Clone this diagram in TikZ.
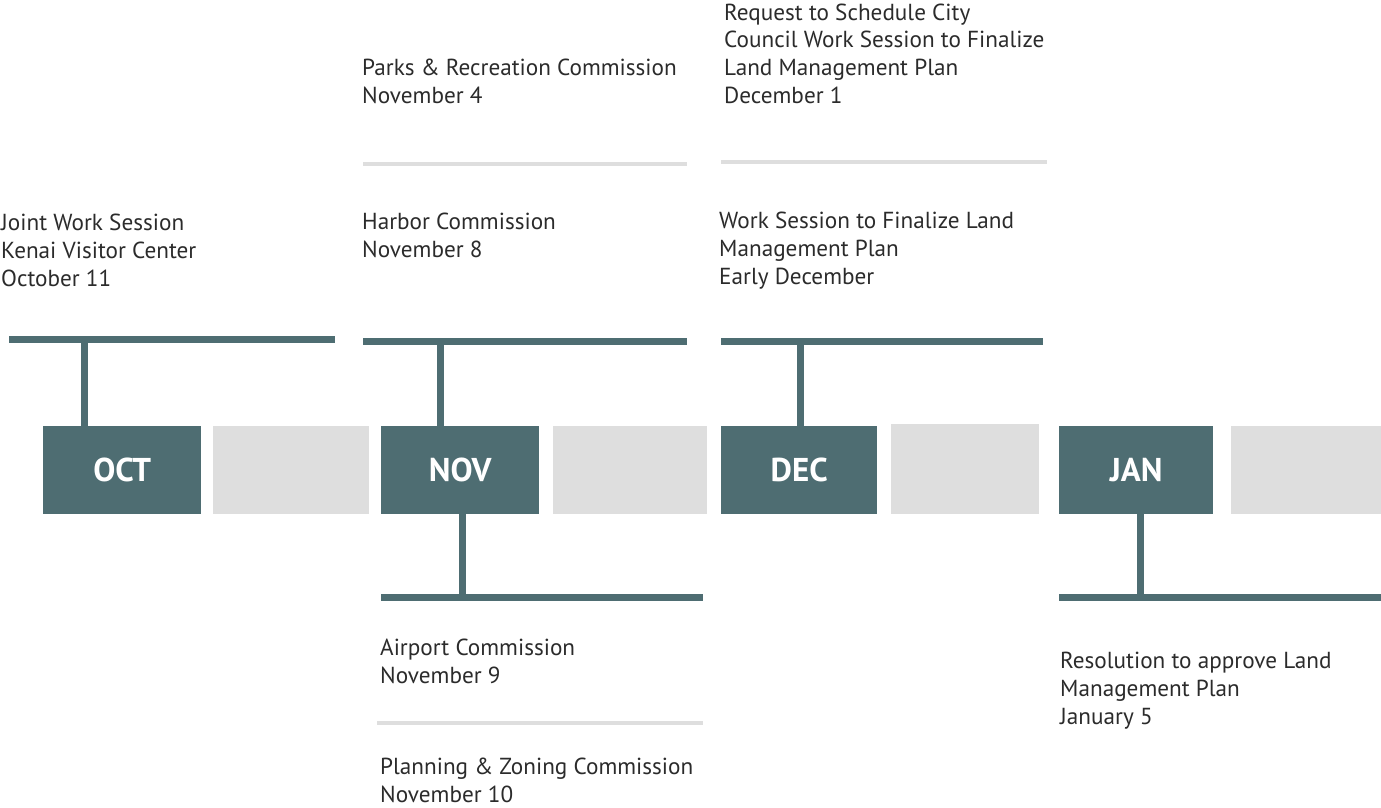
\documentclass[tikz,border=0pt]{standalone}
\usepackage{fontspec}
\setmainfont{PT Sans}
\definecolor{tealc}{HTML}{4E6D72}
\definecolor{lgray}{HTML}{DEDEDE}
\definecolor{txt}{HTML}{2B2B2B}
\begin{document}
\begin{tikzpicture}[x=1pt,y=-1pt,
  month/.style={fill=tealc, text=white, font=\fontsize{33}{33}\selectfont\bfseries, minimum height=88pt, inner sep=0, anchor=north west},
  pad/.style={fill=lgray, minimum height=88pt, inner sep=0, anchor=north west},
  bar/.style={fill=tealc, minimum height=7pt, inner sep=0, anchor=west},
  sep/.style={fill=lgray, minimum height=4pt, inner sep=0, anchor=west},
  stem/.style={draw=tealc, line width=7pt},
  evt/.style={anchor=base west, align=left, inner sep=0, text=txt, font=\fontsize{23.2}{27.6}\selectfont}]
\useasboundingbox (0,0) rectangle (1381,807);
% month boxes
\node[month, minimum width=158pt] (oct) at (43,426) {OCT};
\node[pad, minimum width=156pt] (octg) at (213,426) {};
\node[month, minimum width=158pt] (nov) at (381,426) {NOV};
\node[pad, minimum width=154pt] (novg) at (553,426) {};
\node[month, minimum width=156pt] (dec) at (721,426) {DEC};
\node[pad, minimum width=148pt, minimum height=90pt] (decg) at (891,424) {};
\node[month, minimum width=154pt] (jan) at (1059,426) {JAN};
\node[pad, minimum width=150pt] (jang) at (1231,426) {};
% bars
\node[bar, minimum width=326pt] (octbar) at (9,339.5) {};
\node[bar, minimum width=324pt] (novbar) at (363,341.5) {};
\node[bar, minimum width=322pt] (decbar) at (721,341.5) {};
\node[bar, minimum width=322pt] (novbot) at (381,597.5) {};
\node[bar, minimum width=322pt] (janbot) at (1059,597.5) {};
% separators
\node[sep, minimum width=324pt] (novsep) at (363,164) {};
\node[sep, minimum width=326pt] (decsep) at (721,162) {};
\node[sep, minimum width=326pt] (novsepb) at (377,723) {};
% stems
\coordinate (s1) at (84.5,0);
\coordinate (s2) at (440,0);
\coordinate (s3) at (800.5,0);
\coordinate (s4) at (462,0);
\coordinate (s5) at (1140,0);
\draw[stem] (octbar.south -| s1) -- (oct.north -| s1);
\draw[stem] (novbar.south -| s2) -- (nov.north -| s2);
\draw[stem] (decbar.south -| s3) -- (dec.north -| s3);
\draw[stem] (nov.south -| s4) -- (novbot.north -| s4);
\draw[stem] (jan.south -| s5) -- (janbot.north -| s5);
% events (anchored at the baseline of the last line)
\node[evt] (e1) at (1,286) {Joint Work Session\\Kenai Visitor Center\\October 11};
\node[evt] (e2) at (362,103) {Parks \& Recreation Commission\\November 4};
\node[evt] (e3) at (362,257) {Harbor Commission\\November 8};
\node[evt] (e4) at (724,103) {Request to Schedule City\\Council Work Session to Finalize\\Land Management Plan\\December 1};
\node[evt] (e5) at (719,284) {Work Session to Finalize Land\\Management Plan\\Early December};
\node[evt] (e6) at (380,683) {Airport Commission\\November 9};
\node[evt] (e7) at (380,802) {Planning \& Zoning Commission\\November 10};
\node[evt] (e8) at (1060,724) {Resolution to approve Land\\Management Plan\\January 5};
\end{tikzpicture}
\end{document}
